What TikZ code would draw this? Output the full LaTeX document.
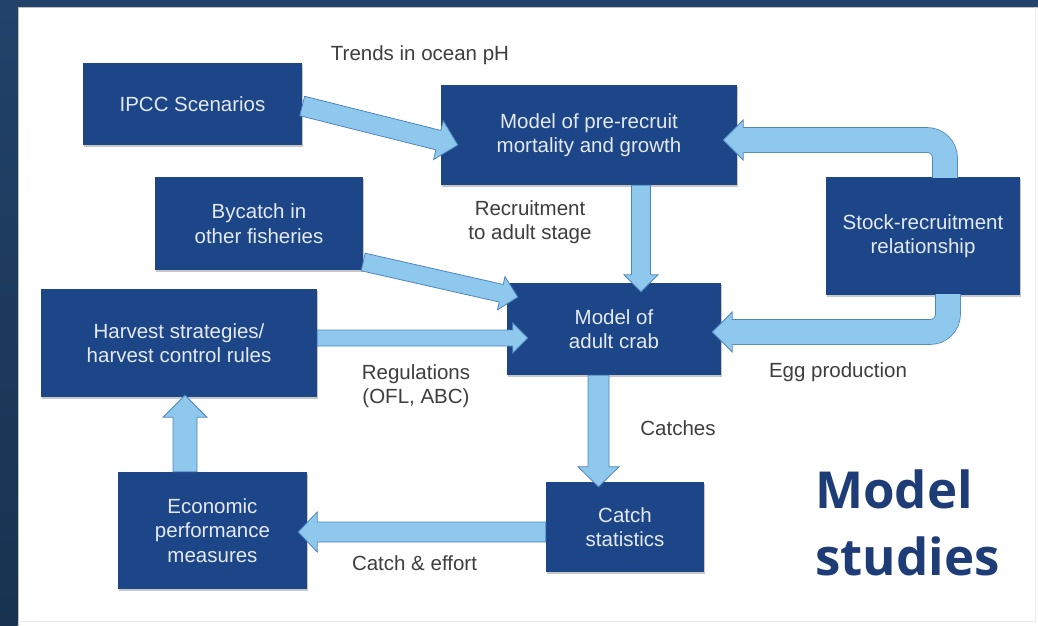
\documentclass[tikz,border=0pt]{standalone}
\usepackage{fontspec}
\setmainfont{Liberation Sans}
\newfontfamily\titlefont{Open Sans}
\usetikzlibrary{calc,shadows}

\definecolor{boxblue}{RGB}{28,70,135}
\definecolor{boxtext}{RGB}{228,233,241}
\definecolor{arrowfill}{RGB}{142,200,236}
\definecolor{arrowline}{RGB}{80,134,190}
\definecolor{labelgray}{RGB}{62,62,62}
\definecolor{titleblue}{RGB}{30,60,118}
\definecolor{frametop}{RGB}{34,66,105}
\definecolor{framebot}{RGB}{24,50,80}

\newcommand\boxfont{\fontsize{20.5}{24.5}\selectfont}

\tikzset{
  box/.style={fill=boxblue, text=boxtext, align=center, inner sep=0pt, font=\boxfont,
    drop shadow={shadow xshift=1.2pt, shadow yshift=-2pt, opacity=0.22, fill=black}},
  lbl/.style={text=labelgray, align=center, inner sep=0pt, font=\boxfont},
  arrowbody/.style={fill=arrowfill, draw=arrowline, line width=0.8pt, line join=miter},
  titletext/.style={text=titleblue, inner sep=0pt, font=\titlefont\bfseries\fontsize{51}{67}\selectfont},
}

% straight fat arrow: start, tip, shaft half width, head half width, head length
\newcommand\fatarrow[5]{%
  \coordinate (fa-s) at #1;
  \coordinate (fa-t) at #2;
  \coordinate (fa-b) at ($(fa-t)!#5!(fa-s)$);
  \draw[arrowbody]
    ($(fa-s)!#3!90:(fa-t)$) -- ($(fa-b)!#3!90:(fa-t)$) -- ($(fa-b)!#4!90:(fa-t)$) -- (fa-t)
    -- ($(fa-b)!#4!-90:(fa-t)$) -- ($(fa-b)!#3!-90:(fa-t)$) -- ($(fa-s)!#3!-90:(fa-t)$) -- cycle;
}
% bent fat arrow: vertical then horizontal to the left
\newcommand\bentarrow[2]{%
  \coordinate (ba-s) at #1;
  \coordinate (ba-t) at #2;
  \coordinate (ba-b) at ($(ba-t)+(20,0)$);
  \draw[draw=arrowline, line width=25.6pt, rounded corners=18pt] (ba-s) |- (ba-b);
  \draw[arrowbody] ($(ba-b)+(0,-20)$) -- (ba-t) -- ($(ba-b)+(0,20)$) -- cycle;
  \draw[draw=arrowfill, line width=24pt, rounded corners=18pt] (ba-s) |- ($(ba-b)+(-1.5,0)$);
}

\begin{document}
\begin{tikzpicture}[x=1pt,y=-1pt]
\useasboundingbox (0,0) rectangle (1038,626);
\fill[white] (0,0) rectangle (1038,626);
% slide frame
\fill[frametop] (0,0) rectangle (1038,7);
\shade[top color=frametop, bottom color=framebot] (0,0) rectangle (17.5,626);
\draw[black!25, line width=0.8pt] (18.3,7.4) -- (1038,7.4);
\draw[black!25, line width=0.8pt] (18.3,7.4) -- (18.3,626);
\draw[black!8, line width=0.6pt] (1035,7.4) -- (1035,621) -- (18.3,621);

% boxes
\node[box, minimum width=219pt, minimum height=82pt] (ipcc) at (192.5,104) {IPCC Scenarios};
\node[box, minimum width=296pt, minimum height=100pt] (pre) at (589,135) {Model of pre-recruit\\mortality and growth};
\node[box, minimum width=208pt, minimum height=93pt] (bycatch) at (259,223.5) {Bycatch in\\other fisheries};
\node[box, minimum width=194pt, minimum height=118pt] (stock) at (923,236) {Stock-recruitment\\relationship};
\node[box, minimum width=276pt, minimum height=108pt] (harvest) at (179,343) {Harvest strategies/\\harvest control rules};
\node[box, minimum width=214pt, minimum height=92pt] (adult) at (614,329) {Model of\\adult crab};
\node[box, minimum width=189pt, minimum height=117pt] (econ) at (212.5,530.5) {Economic\\performance\\measures};
\node[box, minimum width=158pt, minimum height=90pt] (catch) at (625,527) {Catch\\statistics};

% arrows
\fatarrow{($(ipcc.east)+(0,2)$)}{($(pre.west)+(17,10)$)}{10pt}{20pt}{20pt}
\fatarrow{($(bycatch.east)+(0,38.5)$)}{($(adult.west)+(11,-32)$)}{9pt}{17pt}{17pt}
\fatarrow{($(harvest.east)+(0,-5)$)}{($(adult.west)+(21,9)$)}{8pt}{15pt}{15pt}
\fatarrow{($(pre.south)+(52,0)$)}{($(adult.north)+(27,9)$)}{9.5pt}{17pt}{17pt}
\fatarrow{($(adult.south)+(-15.5,0)$)}{($(catch.north)+(-26.5,5)$)}{10.5pt}{20.5pt}{20pt}
\fatarrow{($(econ.north)+(-27.5,0)$)}{($(harvest.south)+(6,-2)$)}{12pt}{22pt}{22pt}
\fatarrow{($(catch.west)+(0,5)$)}{($(econ.east)+(-9,1.5)$)}{10pt}{20pt}{19pt}
\bentarrow{($(stock.north)+(22,1)$)}{($(pre.east)+(-14,5)$)}
\bentarrow{($(stock.south)+(25,-1)$)}{($(adult.east)+(-9,3)$)}

% labels
\node[lbl] (ltrends) at (420,55) {Trends in ocean pH};
\node[lbl] (lrecruit) at (530,222) {Recruitment\\to adult stage};
\node[lbl] (lreg) at (416,386) {Regulations\\(OFL, ABC)};
\node[lbl] (legg) at (838,372) {Egg production};
\node[lbl] (lcatches) at (678,428) {Catches};
\node[lbl] (leffort) at (414.5,563) {Catch \& effort};

% title
\node[titletext, anchor=base west] (title1) at (815,508) {Model};
\node[titletext, anchor=base west] (title2) at (815,575) {studies};
\end{tikzpicture}
\end{document}
